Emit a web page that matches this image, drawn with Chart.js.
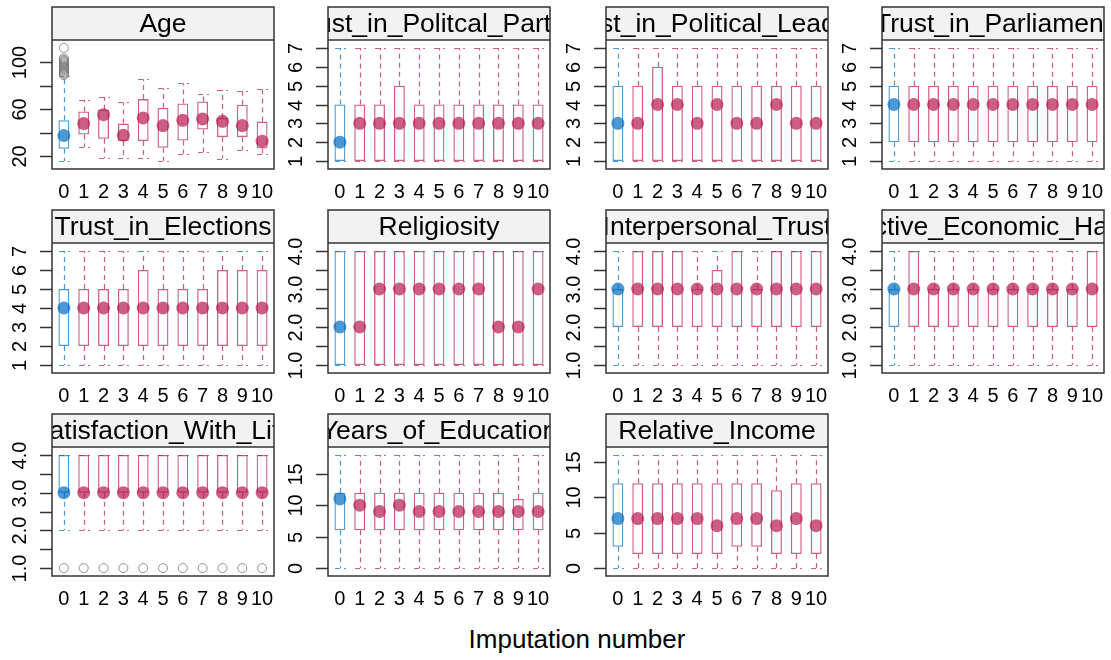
<!DOCTYPE html>
<html>
<head>
<meta charset="utf-8">
<script src="https://cdn.jsdelivr.net/npm/chart.js@4.4.0/dist/chart.umd.min.js"></script>
<style>
  body { margin: 0; background: #fff; width: 1111px; height: 660px; overflow: hidden; position: relative; font-family: "Liberation Sans", Arial, sans-serif; }
  canvas { position: absolute; left: 0; top: 0; }
  #xlab { position: absolute; left: 0; width: 1154px; top: 624px; text-align: center; font-size: 26px; color: #000; }
</style>
</head>
<body>
<div id="xlab">Imputation number</div>
<script>
// imputation 0 = observed data, 1..10 = imputed sets
const imputations = ['0', '1', '2', '3', '4', '5', '6', '7', '8', '9', '10'];

// Age
const ageQ1  = [26.5, 38.5, 35, 33, 33, 27.3, 33.5, 42.7, 36.3, 36.3, 26.7];
const ageQ3  = [50.6, 58, 59.6, 47.8, 68.6, 61, 64.9, 66.6, 52.6, 63.8, 49.5];
const ageMed = [37.7, 47.8, 55.4, 37.9, 52.6, 46.1, 50.6, 51.7, 49.7, 46.1, 32.9];
const ageLo  = [16, 27.8, 18.3, 18.3, 18.3, 16, 22.3, 23.6, 18, 25.3, 21.7];
const ageHi  = [88, 68, 70.3, 66, 85.4, 77.8, 82, 73.3, 76.4, 75.6, 77.3];
const ageOut = [[89, 90, 91, 92, 93, 94, 95, 96, 97, 98, 99, 100, 101, 102, 103, 112], [], [], [], [], [], [], [], [], [], []];

// Trust_in_Politcal_Parties
const partyQ1  = [1, 1, 1, 1, 1, 1, 1, 1, 1, 1, 1];
const partyQ3  = [4, 4, 4, 5, 4, 4, 4, 4, 4, 4, 4];
const partyMed = [2, 3, 3, 3, 3, 3, 3, 3, 3, 3, 3];
const partyLo  = [1, 1, 1, 1, 1, 1, 1, 1, 1, 1, 1];
const partyHi  = [7, 7, 7, 7, 7, 7, 7, 7, 7, 7, 7];

// Trust_in_Political_Leaders
const leaderQ1  = [1, 1, 1, 1, 1, 1, 1, 1, 1, 1, 1];
const leaderQ3  = [5, 5, 6, 5, 5, 5, 5, 5, 5, 5, 5];
const leaderMed = [3, 3, 4, 4, 3, 4, 3, 3, 4, 3, 3];
const leaderLo  = [1, 1, 1, 1, 1, 1, 1, 1, 1, 1, 1];
const leaderHi  = [7, 7, 7, 7, 7, 7, 7, 7, 7, 7, 7];

// Trust_in_Parliament
const parlQ1  = [2, 2, 2, 2, 2, 2, 2, 2, 2, 2, 2];
const parlQ3  = [5, 5, 5, 5, 5, 5, 5, 5, 5, 5, 5];
const parlMed = [4, 4, 4, 4, 4, 4, 4, 4, 4, 4, 4];
const parlLo  = [1, 1, 1, 1, 1, 1, 1, 1, 1, 1, 1];
const parlHi  = [7, 7, 7, 7, 7, 7, 7, 7, 7, 7, 7];

// Trust_in_Elections
const electQ1  = [2, 2, 2, 2, 2, 2, 2, 2, 2, 2, 2];
const electQ3  = [5, 5, 5, 5, 6, 5, 5, 5, 6, 6, 6];
const electMed = [4, 4, 4, 4, 4, 4, 4, 4, 4, 4, 4];
const electLo  = [1, 1, 1, 1, 1, 1, 1, 1, 1, 1, 1];
const electHi  = [7, 7, 7, 7, 7, 7, 7, 7, 7, 7, 7];

// Religiosity
const religQ1  = [1, 1, 1, 1, 1, 1, 1, 1, 1, 1, 1];
const religQ3  = [4, 4, 4, 4, 4, 4, 4, 4, 4, 4, 4];
const religMed = [2, 2, 3, 3, 3, 3, 3, 3, 2, 2, 3];
const religLo  = [1, 1, 1, 1, 1, 1, 1, 1, 1, 1, 1];
const religHi  = [4, 4, 4, 4, 4, 4, 4, 4, 4, 4, 4];

// Interpersonal_Trust
const interQ1  = [2, 2, 2, 2, 2, 2, 2, 2, 2, 2, 2];
const interQ3  = [3, 4, 4, 4, 3, 3.5, 4, 3, 4, 4, 4];
const interMed = [3, 3, 3, 3, 3, 3, 3, 3, 3, 3, 3];
const interLo  = [1, 1, 1, 1, 1, 1, 1, 1, 1, 1, 1];
const interHi  = [4, 4, 4, 4, 4, 4, 4, 4, 4, 4, 4];

// Subjective_Economic_Hardship
const hardQ1  = [2, 2, 2, 2, 2, 2, 2, 2, 2, 2, 2];
const hardQ3  = [3, 4, 3, 3, 3, 3, 3, 3, 3, 3, 4];
const hardMed = [3, 3, 3, 3, 3, 3, 3, 3, 3, 3, 3];
const hardLo  = [1, 1, 1, 1, 1, 1, 1, 1, 1, 1, 1];
const hardHi  = [4, 4, 4, 4, 4, 4, 4, 4, 4, 4, 4];

// Satisfaction_With_Life
const satQ1  = [3, 3, 3, 3, 3, 3, 3, 3, 3, 3, 3];
const satQ3  = [4, 4, 4, 4, 4, 4, 4, 4, 4, 4, 4];
const satMed = [3, 3, 3, 3, 3, 3, 3, 3, 3, 3, 3];
const satLo  = [2, 2, 2, 2, 2, 2, 2, 2, 2, 2, 2];
const satHi  = [4, 4, 4, 4, 4, 4, 4, 4, 4, 4, 4];
const satOut = [[1], [1], [1], [1], [1], [1], [1], [1], [1], [1], [1]];

// Years_of_Education
const eduQ1  = [6, 6, 6, 6, 6, 6, 6, 6, 6, 6, 6];
const eduQ3  = [12, 12, 12, 12, 12, 12, 12, 12, 12, 11, 12];
const eduMed = [11, 10, 9, 10, 9, 9, 9, 9, 9, 9, 9];
const eduLo  = [0, 0, 0, 0, 0, 0, 0, 0, 0, 0, 0];
const eduHi  = [18, 18, 18, 18, 18, 18, 18, 18, 18, 18, 18];

// Relative_Income
const incQ1  = [3, 2, 2, 2, 2, 2, 3, 3, 2, 2, 2];
const incQ3  = [12, 12, 12, 12, 12, 12, 12, 12, 11, 12, 12];
const incMed = [7, 7, 7, 7, 7, 6, 7, 7, 6, 7, 6];
const incLo  = [0, 0, 0, 0, 0, 0, 0, 0, 0, 0, 0];
const incHi  = [16, 16, 16, 16, 16, 16, 16, 16, 16, 16, 16];

// y axis ticks (empty label = tick mark only)
const ageTicks = [20, 40, 60, 80, 100];
const ageTickLabels = ['20', '', '60', '', '100'];
const sevenTicks = [1, 2, 3, 4, 5, 6, 7];
const sevenTickLabels = ['1', '2', '3', '4', '5', '6', '7'];
const fourTicks = [1, 1.5, 2, 2.5, 3, 3.5, 4];
const fourTickLabels = ['1.0', '', '2.0', '', '3.0', '', '4.0'];
const fifteenTicks = [0, 5, 10, 15];
const fifteenTickLabels = ['0', '5', '10', '15'];

const noOut = [[], [], [], [], [], [], [], [], [], [], []];

const panels = [
  { title: 'Age', q1: ageQ1, q3: ageQ3, med: ageMed, lo: ageLo, hi: ageHi, out: ageOut, ticks: ageTicks, tickLabels: ageTickLabels },
  { title: 'Trust_in_Politcal_Parties', q1: partyQ1, q3: partyQ3, med: partyMed, lo: partyLo, hi: partyHi, out: noOut, ticks: sevenTicks, tickLabels: sevenTickLabels },
  { title: 'Trust_in_Political_Leaders', q1: leaderQ1, q3: leaderQ3, med: leaderMed, lo: leaderLo, hi: leaderHi, out: noOut, ticks: sevenTicks, tickLabels: sevenTickLabels },
  { title: 'Trust_in_Parliament', q1: parlQ1, q3: parlQ3, med: parlMed, lo: parlLo, hi: parlHi, out: noOut, ticks: sevenTicks, tickLabels: sevenTickLabels },
  { title: 'Trust_in_Elections', q1: electQ1, q3: electQ3, med: electMed, lo: electLo, hi: electHi, out: noOut, ticks: sevenTicks, tickLabels: sevenTickLabels },
  { title: 'Religiosity', q1: religQ1, q3: religQ3, med: religMed, lo: religLo, hi: religHi, out: noOut, ticks: fourTicks, tickLabels: fourTickLabels },
  { title: 'Interpersonal_Trust', q1: interQ1, q3: interQ3, med: interMed, lo: interLo, hi: interHi, out: noOut, ticks: fourTicks, tickLabels: fourTickLabels },
  { title: 'Subjective_Economic_Hardship', q1: hardQ1, q3: hardQ3, med: hardMed, lo: hardLo, hi: hardHi, out: noOut, ticks: fourTicks, tickLabels: fourTickLabels },
  { title: 'Satisfaction_With_Life', q1: satQ1, q3: satQ3, med: satMed, lo: satLo, hi: satHi, out: satOut, ticks: fourTicks, tickLabels: fourTickLabels },
  { title: 'Years_of_Education', q1: eduQ1, q3: eduQ3, med: eduMed, lo: eduLo, hi: eduHi, out: noOut, ticks: fifteenTicks, tickLabels: fifteenTickLabels },
  { title: 'Relative_Income', q1: incQ1, q3: incQ3, med: incMed, lo: incLo, hi: incHi, out: noOut, ticks: fifteenTicks, tickLabels: fifteenTickLabels }
];

// layout of the 4 x 3 grid
const W = 1111, H = 660;
const colLeft = [52, 328, 606, 882];
const panelWidth = 222;
const rowTop = [40, 243, 447];     // top of plot region (below strip)
const rowBottom = [169, 373, 576];
const stripHeight = 33;

const BLUE = 'rgba(0,108,194,0.7)';
const RED = 'rgba(182,26,81,0.7)';
const FONT = '"Liberation Sans", Arial, sans-serif';

function colourFor(i) { return i === 0 ? BLUE : RED; }

// whiskers, strip, frame and axes around each panel
const latticePanel = {
  id: 'latticePanel',
  beforeDatasetsDraw(chart) {
    const p = chart.canvas.$panel;
    const ctx = chart.ctx;
    const x = chart.scales.x, y = chart.scales.y;
    const bars = chart.getDatasetMeta(0).data;
    ctx.save();
    ctx.lineWidth = 1.2;
    ctx.setLineDash([5, 4]);
    imputations.forEach((lab, i) => {
      const cx = Math.round(x.getPixelForValue(i)) + 0.5;
      const hw = bars[i].width / 2;
      const yQ1 = y.getPixelForValue(p.q1[i]), yQ3 = y.getPixelForValue(p.q3[i]);
      const yLo = y.getPixelForValue(p.lo[i]), yHi = y.getPixelForValue(p.hi[i]);
      ctx.strokeStyle = colourFor(i);
      ctx.beginPath();
      ctx.moveTo(cx, yQ3); ctx.lineTo(cx, yHi);
      ctx.moveTo(cx, yQ1); ctx.lineTo(cx, yLo);
      ctx.moveTo(cx - hw, Math.round(yHi) + 0.5); ctx.lineTo(cx + hw, Math.round(yHi) + 0.5);
      ctx.moveTo(cx - hw, Math.round(yLo) + 0.5); ctx.lineTo(cx + hw, Math.round(yLo) + 0.5);
      ctx.stroke();
    });
    ctx.restore();
  },
  afterDraw(chart) {
    const p = chart.canvas.$panel;
    const ctx = chart.ctx;
    const area = chart.chartArea;
    const x = chart.scales.x, y = chart.scales.y;
    const left = area.left, right = area.right, top = area.top, bottom = area.bottom;
    const sTop = top - stripHeight;
    ctx.save();

    // strip with clipped, centred title
    ctx.fillStyle = '#f2f2f2';
    ctx.fillRect(left, sTop, right - left, stripHeight);
    ctx.save();
    ctx.beginPath();
    ctx.rect(left, sTop, right - left, stripHeight);
    ctx.clip();
    ctx.fillStyle = '#000';
    ctx.font = '26.5px ' + FONT;
    ctx.textAlign = 'center';
    ctx.textBaseline = 'middle';
    ctx.fillText(p.title, (left + right) / 2, sTop + stripHeight / 2 + 1);
    ctx.restore();

    // frame
    ctx.strokeStyle = '#333';
    ctx.lineWidth = 1.5;
    ctx.strokeRect(left, sTop, right - left, bottom - sTop);
    ctx.beginPath();
    ctx.moveTo(left, top); ctx.lineTo(right, top);
    ctx.stroke();

    // y ticks and rotated labels
    ctx.strokeStyle = '#333';
    ctx.lineWidth = 1.5;
    ctx.fillStyle = '#000';
    ctx.font = '20px ' + FONT;
    p.ticks.forEach((v, k) => {
      const py = Math.round(y.getPixelForValue(v)) + 0.5;
      ctx.beginPath();
      ctx.moveTo(left - 12, py); ctx.lineTo(left, py);
      ctx.stroke();
      const t = p.tickLabels[k];
      if (t) {
        ctx.save();
        ctx.translate(left - 32, py);
        ctx.rotate(-Math.PI / 2);
        ctx.textAlign = 'center';
        ctx.textBaseline = 'middle';
        ctx.fillText(t, 0, 0);
        ctx.restore();
      }
    });

    // x labels
    ctx.textAlign = 'center';
    ctx.textBaseline = 'middle';
    imputations.forEach((lab, i) => {
      ctx.fillText(lab, x.getPixelForValue(i), bottom + 23);
    });
    ctx.restore();
  }
};

panels.forEach((p, idx) => {
  const col = idx % 4, row = Math.floor(idx / 4);
  const left = colLeft[col], right = left + panelWidth;
  const top = rowTop[row], bottom = rowBottom[row];

  // lattice-style limits: data range padded by 7% on each side
  const allOut = p.out.flat();
  const lo = Math.min(...p.lo, ...allOut), hi = Math.max(...p.hi, ...allOut);
  const pad = (hi - lo) * 0.07;

  const canvas = document.createElement('canvas');
  canvas.width = W; canvas.height = H;
  canvas.$panel = p;
  document.body.appendChild(canvas);

  const outPoints = [];
  p.out.forEach((vals, i) => vals.forEach(v => outPoints.push({ x: i, y: v })));

  new Chart(canvas, {
    type: 'bar',
    data: {
      datasets: [
        {
          type: 'bar',
          data: imputations.map((lab, i) => ({ x: i, y: [p.q1[i], p.q3[i]] })),
          backgroundColor: 'rgba(0,0,0,0)',
          borderColor: imputations.map((lab, i) => colourFor(i)),
          borderWidth: 1.3,
          borderSkipped: false,
          barPercentage: 0.55,
          categoryPercentage: 1,
          order: 3
        },
        {
          type: 'scatter',
          data: p.med.map((v, i) => ({ x: i, y: v })),
          pointRadius: 6.5,
          pointBackgroundColor: imputations.map((lab, i) => colourFor(i)),
          pointBorderWidth: 0,
          order: 2
        },
        {
          type: 'scatter',
          data: outPoints,
          pointRadius: 4.5,
          pointBackgroundColor: 'rgba(0,0,0,0)',
          pointBorderColor: 'rgba(120,120,120,0.8)',
          pointBorderWidth: 1,
          order: 1
        }
      ]
    },
    options: {
      responsive: false,
      animation: false,
      devicePixelRatio: 1,
      layout: { padding: { left: left, right: W - right, top: top, bottom: H - bottom } },
      scales: {
        x: { type: 'linear', min: -0.6, max: 10.6, offset: false, grace: 0, display: false },
        y: { min: lo - pad, max: hi + pad, display: false }
      },
      plugins: { legend: { display: false }, tooltip: { enabled: false } }
    },
    plugins: [latticePanel]
  });
});
</script>
</body>
</html>
